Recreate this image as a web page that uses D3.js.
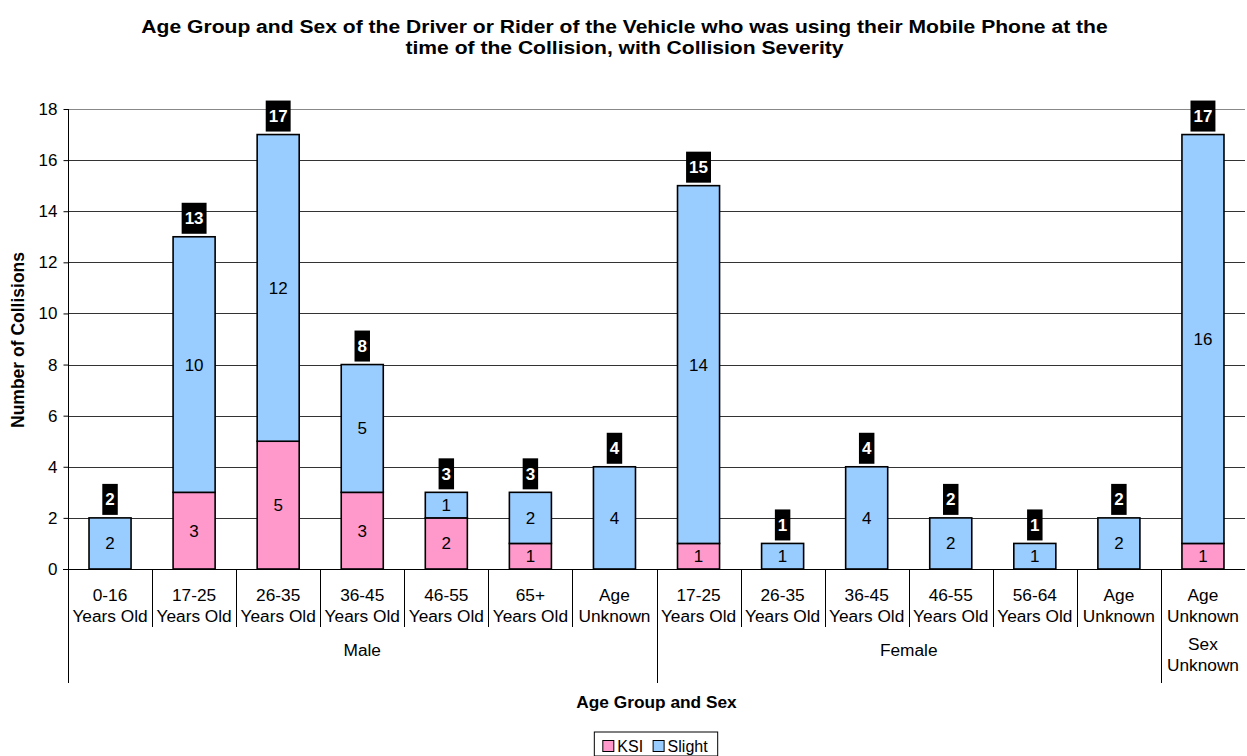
<!DOCTYPE html>
<html>
<head>
<meta charset="utf-8">
<script src="https://cdn.jsdelivr.net/npm/d3@7/dist/d3.min.js"></script>
<style>
  html, body { margin: 0; padding: 0; background: #fff; }
  svg { display: block; font-family: Arial, "Liberation Sans", sans-serif; }
</style>
</head>
<body>
<svg id="chart" width="1247" height="756"></svg>
<script>
// Age band labels (two text lines each) and their sex grouping
const ageLabels = [
  ["0-16", "Years Old"], ["17-25", "Years Old"], ["26-35", "Years Old"], ["36-45", "Years Old"],
  ["46-55", "Years Old"], ["65+", "Years Old"], ["Age", "Unknown"],
  ["17-25", "Years Old"], ["26-35", "Years Old"], ["36-45", "Years Old"], ["46-55", "Years Old"],
  ["56-64", "Years Old"], ["Age", "Unknown"],
  ["Age", "Unknown"]
];
const sexGroups = [
  { label: ["Male"], start: 0, end: 7 },
  { label: ["Female"], start: 7, end: 13 },
  { label: ["Sex", "Unknown"], start: 13, end: 14 }
];
// Collisions by severity
const ksi    = [0, 3, 5, 3, 2, 1, 0, 1, 0, 0, 0, 0, 0, 1];
const slight = [2, 10, 12, 5, 1, 2, 4, 14, 1, 4, 2, 1, 2, 16];
const yTicks = [0, 2, 4, 6, 8, 10, 12, 14, 16, 18];
const seriesNames = ["KSI", "Slight"];
const seriesColors = ["#FF99CC", "#99CCFF"];

const svg = d3.select("#chart");
const pL = 68, pR = 1245, pT = 109, pB = 569;

const idx = d3.range(ageLabels.length);
const x = d3.scaleBand().domain(idx).range([pL, pR]).padding(0);
const y = d3.scaleLinear().domain([0, 18]).range([pB, pT]);

// Title (slightly widened lettering)
const titleX = (pL + pR) / 2 - 32;
const title = svg.append("text").attr("text-anchor", "middle")
  .attr("font-weight", "bold").attr("font-size", 19)
  .attr("transform", `translate(${titleX},0) scale(1.11,1) translate(${-titleX},0)`);
title.append("tspan").attr("x", titleX).attr("y", 33)
  .text("Age Group and Sex of the Driver or Rider of the Vehicle who was using their Mobile Phone at the");
title.append("tspan").attr("x", titleX).attr("y", 54)
  .text("time of the Collision, with Collision Severity");

// Gridlines
svg.append("g").selectAll("line").data(yTicks.filter(d => d > 0)).join("line")
  .attr("x1", pL).attr("x2", pR)
  .attr("y1", d => Math.round(y(d)) + 0.5).attr("y2", d => Math.round(y(d)) + 0.5)
  .attr("stroke", d => d === 18 ? "#888" : "#333").attr("stroke-width", 1);

// Y axis
const yAxis = d3.axisLeft(y).tickValues(yTicks).tickSize(5).tickPadding(6).tickFormat(d3.format("d"));
const yg = svg.append("g").attr("transform", `translate(${pL + 0.5},0)`).call(yAxis);
yg.select(".domain").remove();
yg.selectAll(".tick line").attr("stroke", "#000");
yg.selectAll(".tick text").attr("font-size", 17).attr("fill", "#000")
  .attr("font-family", "Arial, 'Liberation Sans', sans-serif");
svg.append("line").attr("x1", pL + 0.5).attr("x2", pL + 0.5)
  .attr("y1", pT).attr("y2", 683).attr("stroke", "#000");

svg.append("text").attr("transform", `translate(24,${(pT + pB) / 2 + 1}) rotate(-90)`)
  .attr("text-anchor", "middle").attr("font-weight", "bold").attr("font-size", 17.5)
  .text("Number of Collisions");

// Stacked bars
const rows = idx.map(i => ({ i, KSI: ksi[i], Slight: slight[i] }));
const stacked = d3.stack().keys(seriesNames)(rows);
const barW = x.bandwidth() / 2;
const bars = svg.append("g");
stacked.forEach((layer, k) => {
  const g = bars.append("g");
  layer.forEach((seg, i) => {
    const v = seg[1] - seg[0];
    if (v <= 0) return;
    const x0 = x(i) + barW / 2;
    g.append("rect")
      .attr("x", x0).attr("y", y(seg[1]))
      .attr("width", barW).attr("height", y(seg[0]) - y(seg[1]))
      .attr("fill", seriesColors[k]).attr("stroke", "#000").attr("stroke-width", 1.6);
    g.append("text")
      .attr("x", x0 + barW / 2).attr("y", (y(seg[0]) + y(seg[1])) / 2 + 6)
      .attr("text-anchor", "middle").attr("font-size", 17).text(v);
  });
});

// Totals above bars
const totals = idx.map(i => ksi[i] + slight[i]);
totals.forEach((t, i) => {
  const cx = x(i) + x.bandwidth() / 2;
  const label = svg.append("g");
  const txt = label.append("text").attr("x", cx).attr("y", y(t) - 12.5)
    .attr("text-anchor", "middle").attr("font-weight", "bold").attr("font-size", 17)
    .attr("fill", "#fff").text(t);
  const w = txt.node().getComputedTextLength() + 6;
  label.insert("rect", "text").attr("x", cx - w / 2).attr("y", y(t) - 34)
    .attr("width", w).attr("height", 31).attr("fill", "#000");
});

// X axis line and category separators
svg.append("line").attr("x1", pL - 5).attr("x2", pR)
  .attr("y1", pB + 0.5).attr("y2", pB + 0.5).attr("stroke", "#000");
const groupEdges = new Set(sexGroups.map(g => g.start));
idx.forEach(i => {
  if (i === 0) return;
  const xx = Math.round(x(i)) + 0.5;
  svg.append("line").attr("x1", xx).attr("x2", xx)
    .attr("y1", pB).attr("y2", groupEdges.has(i) ? 683 : 627).attr("stroke", "#000");
});

// Category labels
const catG = svg.append("g").attr("font-size", 17.3).attr("text-anchor", "middle");
ageLabels.forEach((lines, i) => {
  const t = catG.append("text");
  lines.forEach((ln, j) => {
    t.append("tspan").attr("x", x(i) + x.bandwidth() / 2).attr("y", 601 + j * 20.5).text(ln);
  });
});
sexGroups.forEach(g => {
  const cx = (x(g.start) + x(g.end - 1) + x.bandwidth()) / 2;
  const t = catG.append("text");
  const y0 = g.label.length > 1 ? 650 : 656;
  g.label.forEach((ln, j) => t.append("tspan").attr("x", cx).attr("y", y0 + j * 20.5).text(ln));
});

svg.append("text").attr("x", (pL + pR) / 2).attr("y", 708)
  .attr("text-anchor", "middle").attr("font-weight", "bold").attr("font-size", 17.3)
  .text("Age Group and Sex");

// Legend
const legend = svg.append("g");
const items = legend.selectAll("g").data(seriesNames).join("g");
items.append("rect").attr("width", 11).attr("height", 11).attr("x", 0.5).attr("y", -11.5)
  .attr("fill", (d, k) => seriesColors[k]).attr("stroke", "#000");
items.append("text").attr("x", 15).attr("font-size", 16).text(d => d);
let off = 0;
items.each(function () {
  d3.select(this).attr("transform", `translate(${off},0)`);
  off += this.getBBox().width + 10;
});
const contentW = off - 10;
const lw = contentW + 18;
const lx = 656 - lw / 2;
legend.attr("transform", `translate(${lx + 8},752)`);
legend.insert("rect", "g").attr("x", -8).attr("y", -20).attr("width", lw).attr("height", 24)
  .attr("fill", "#fff").attr("stroke", "#000");
</script>
</body>
</html>
